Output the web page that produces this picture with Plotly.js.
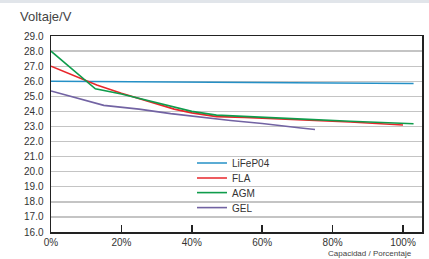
<!DOCTYPE html>
<html>
<head>
<meta charset="utf-8">
<script src="https://cdn.plot.ly/plotly-3.0.1.min.js"></script>
<style>
html,body{margin:0;padding:0;background:#fff;}
#topbar{position:absolute;left:0;top:0;width:429px;height:3px;background:#e1e5ea;z-index:5;}
#chart{position:absolute;left:0;top:0;width:429px;height:259px;}
</style>
</head>
<body>
<div id="chart"></div>
<div id="topbar"></div>
<script>
// Data (capacity % vs voltage V)
const lifepoX = [0, 103];
const lifepoY = [26.0, 25.85];

const flaX = [0, 13, 20, 30, 35, 40, 47, 55, 70, 85, 100];
const flaY = [27.0, 25.75, 25.2, 24.5, 24.15, 23.9, 23.65, 23.6, 23.47, 23.3, 23.1];

const agmX = [0, 12.6, 20, 30, 35, 40, 47, 55, 70, 85, 103];
const agmY = [28.0, 25.5, 25.15, 24.6, 24.3, 24.0, 23.75, 23.65, 23.5, 23.35, 23.18];

const gelX = [0, 15, 25, 34, 51, 60, 71, 75];
const gelY = [25.35, 24.4, 24.15, 23.85, 23.4, 23.2, 22.9, 22.8];

const seriesNames = ["LiFeP04", "FLA", "AGM", "GEL"];
const xTickVals = [0, 20, 40, 60, 80, 100];
const xTickText = ["0%", "20%", "40%", "60%", "80%", "100%"];
const yTickVals = [16,17,18,19,20,21,22,23,24,25,26,27,28,29];

const colors = ["#2590c6", "#e8262b", "#0f9c4c", "#7263a3"];
const xs = [lifepoX, flaX, agmX, gelX];
const ys = [lifepoY, flaY, agmY, gelY];
const legendIds = ['legend', 'legend2', 'legend3', 'legend4'];
const legendY = [0.352, 0.2755, 0.201, 0.1245];

const traces = seriesNames.map((n, i) => ({
  x: xs[i], y: ys[i], name: n, type: 'scatter', mode: 'lines',
  legend: legendIds[i],
  line: {color: colors[i], width: 1.6}
}));

const layout = {
  width: 429, height: 259,
  margin: {l: 51, r: 7, t: 36, b: 27},
  paper_bgcolor: '#fff', plot_bgcolor: '#fff',
  font: {family: 'Liberation Sans, Arial, sans-serif', size: 10, color: '#333'},
  showlegend: true,
  xaxis: {
    range: [0, 105.4], tickvals: xTickVals, ticktext: xTickText,
    showgrid: false, zeroline: false, showline: true, linecolor: '#222', linewidth: 1.5,
    mirror: true, ticks: 'inside', ticklen: 7, tickwidth: 1.5, tickcolor: '#222',
    tickfont: {size: 10, color: '#333'}
  },
  yaxis: {
    range: [16, 29], tickvals: yTickVals, tickformat: '.1f',
    showgrid: true, gridcolor: '#c4c4c4', gridwidth: 1.3, zeroline: false,
    showline: true, linecolor: '#222', linewidth: 1.5, mirror: true, ticks: '',
    ticklabelstandoff: 4,
    tickfont: {size: 10, color: '#333'}
  },
  annotations: [
    {text: 'Voltaje/V', xref: 'paper', yref: 'paper', x: -0.09, y: 1.102, xanchor: 'left', yanchor: 'middle',
     showarrow: false, font: {size: 13, color: '#444'}},
    {text: 'Capacidad / Porcentaje', xref: 'paper', yref: 'paper', x: 0.978, y: -0.112, xanchor: 'right', yanchor: 'middle',
     showarrow: false, font: {size: 8, color: '#444'}}
  ]
};
legendIds.forEach((id, i) => {
  layout[id] = {x: 0.38, y: legendY[i], xanchor: 'left', yanchor: 'middle', bgcolor: 'rgba(0,0,0,0)',
                font: {size: 10, color: '#333'}, itemwidth: 30};
});

Plotly.newPlot('chart', traces, layout, {displayModeBar: false, staticPlot: true});
</script>
</body>
</html>
